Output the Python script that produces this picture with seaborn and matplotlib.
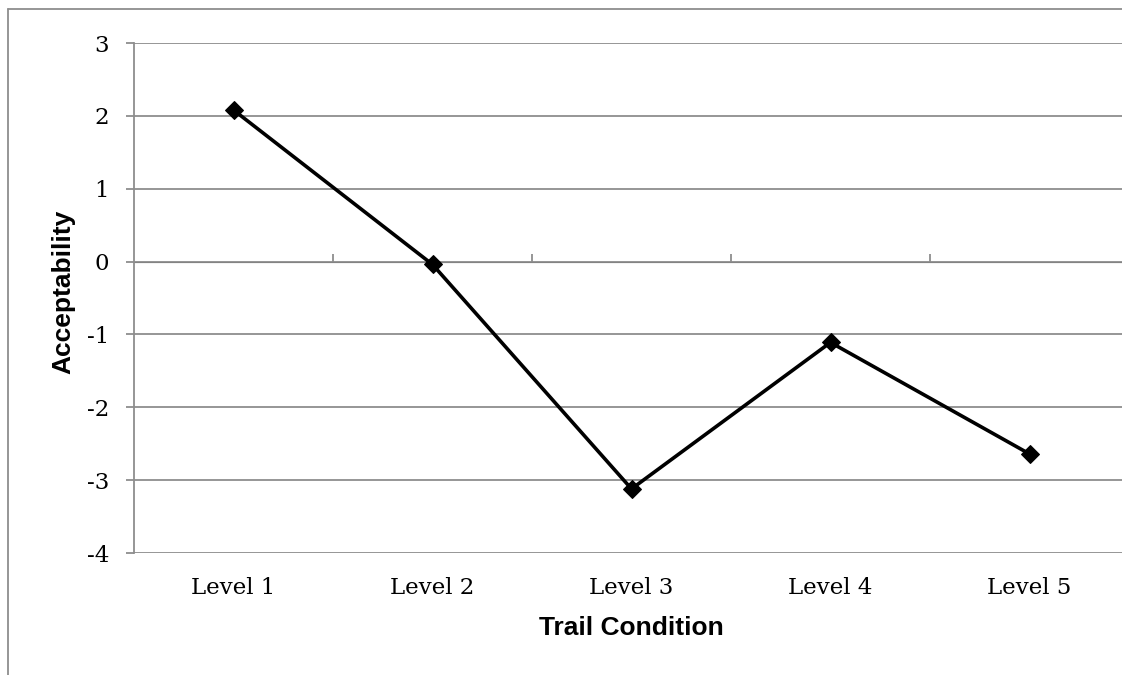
import matplotlib
matplotlib.use("Agg")
import matplotlib.pyplot as plt
import seaborn as sns
import pandas as pd
from matplotlib.lines import Line2D

categories = ["Level 1", "Level 2", "Level 3", "Level 4", "Level 5"]
acceptability = [2.08, -0.04, -3.12, -1.11, -2.64]
y_ticks = [-4, -3, -2, -1, 0, 1, 2, 3]

sns.set_style("white")
plt.rcParams["font.family"] = ["DejaVu Serif"]
plt.rcParams["text.color"] = "black"
plt.rcParams["axes.labelcolor"] = "black"

df = pd.DataFrame({"Trail Condition": categories, "Acceptability": acceptability})

fig = plt.figure(figsize=(11.22, 6.75), dpi=100)
ax = fig.add_axes([134/1122, 1-553/675, 995/1122, 510/675])

grid_c = "#8e8e8e"
for yv in y_ticks:
    ax.axhline(yv, color=grid_c, lw=1.3, zorder=1)

sns.lineplot(data=df, x="Trail Condition", y="Acceptability", sort=False,
             color="black", lw=2.6, marker="D", markersize=9,
             markeredgecolor="black", markerfacecolor="black", ax=ax, zorder=3)

ax.set_xlim(-0.5, len(categories) - 0.5)
ax.set_ylim(min(y_ticks), max(y_ticks))
ax.set_yticks(y_ticks)
ax.set_yticklabels([str(v) for v in y_ticks])
ax.set_xticks(range(len(categories)))
ax.set_xticklabels(categories)

for s in ["top", "right", "bottom"]:
    ax.spines[s].set_visible(False)
ax.spines["left"].set_color(grid_c)
ax.spines["left"].set_linewidth(1.3)

ax.tick_params(axis="y", direction="out", length=6, width=1.3, color=grid_c,
               pad=12, labelsize=16.5, labelcolor="black", left=True)
ax.tick_params(axis="x", length=0, pad=17, labelsize=16.5, labelcolor="black")

# category-boundary ticks on the x axis at y=0
sec = ax.secondary_xaxis((0 - min(y_ticks)) / (max(y_ticks) - min(y_ticks)))
sec.set_xticks([i + 0.5 for i in range(len(categories) - 1)])
sec.set_xticklabels([])
sec.tick_params(direction="out", length=6, width=1.3, color=grid_c)
sec.spines["bottom"].set_visible(False)

lab_font = dict(family="Liberation Sans", weight="bold", size=19, color="black")
ax.set_xlabel("Trail Condition", **lab_font)
ax.set_ylabel("Acceptability", **lab_font)
ax.xaxis.set_label_coords(0.5, (553 - 628) / 510)
ax.xaxis.label.set_va("center")
ax.yaxis.set_label_coords((63 - 134) / 995, (553 - 292) / 510)
ax.yaxis.label.set_va("center")

# outer frame lines (top and left)
fig.add_artist(Line2D([8/1122, 1], [1 - 9/675, 1 - 9/675], transform=fig.transFigure,
                      color=grid_c, lw=1.3))
fig.add_artist(Line2D([8/1122, 8/1122], [0, 1 - 9/675], transform=fig.transFigure,
                      color=grid_c, lw=1.3))

fig.savefig("out.png", dpi=100)
